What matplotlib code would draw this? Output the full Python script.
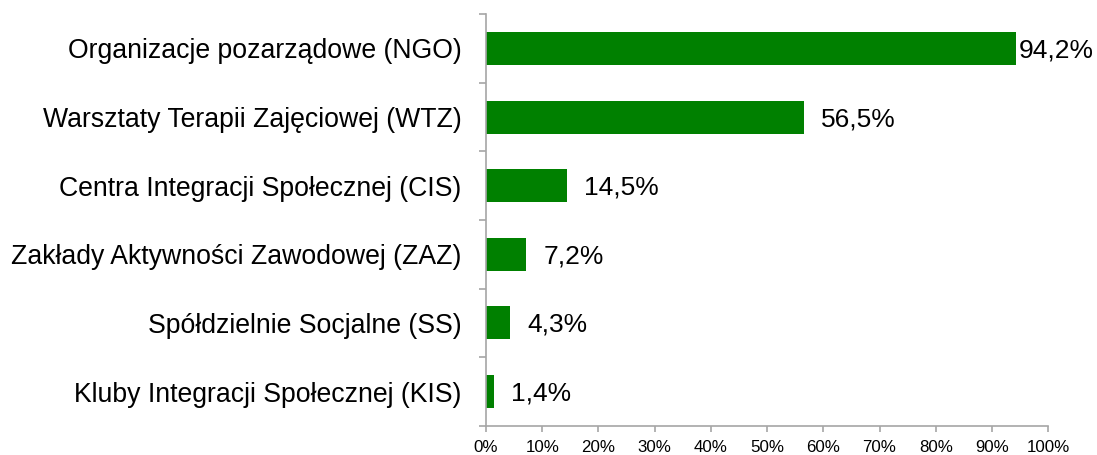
import matplotlib
matplotlib.use("Agg")
import matplotlib.pyplot as plt
import numpy as np

plt.rcParams['font.family'] = ['Liberation Sans', 'DejaVu Sans']

categories = [
    "Organizacje pozarządowe (NGO)",
    "Warsztaty Terapii Zajęciowej (WTZ)",
    "Centra Integracji Społecznej (CIS)",
    "Zakłady Aktywności Zawodowej (ZAZ)",
    "Spółdzielnie Socjalne (SS)",
    "Kluby Integracji Społecznej (KIS)",
]
values = [94.2, 56.5, 14.5, 7.2, 4.3, 1.4]

green = '#008000'
grey = '#a6a6a6'

fig = plt.figure(figsize=(10.97, 4.55), dpi=100)
ax = fig.add_axes([0.443, 0.064, 0.5125, 0.905])

y = np.arange(len(categories))
ax.barh(y, values, height=0.48, color=green)

ax.set_xlim(0, 100)
ax.set_ylim(len(categories) - 0.5, -0.5)

# value labels right of each bar, pulled in when close to the edge
for yi, v in zip(y, values):
    txt = f"{v:.1f}%".replace('.', ',')
    off = 0.6 if v > 90 else 3.0
    ax.text(v + off, yi + 0.03, txt, va='center', ha='left', fontsize=19, color='black')

ax.set_yticks(y)
ax.set_yticklabels(categories, fontsize=19.2)
ax.set_yticks(np.arange(-0.5, len(categories)), minor=True)
ax.tick_params(axis='y', which='major', length=0, pad=17.5)
ax.tick_params(axis='y', which='minor', length=5, color=grey, width=1.2)

ax.set_xticks(np.arange(0, 101, 10))
ax.set_xticklabels([f"{t}%" for t in range(0, 101, 10)], fontsize=12.2)
ax.tick_params(axis='x', length=4, color=grey, width=1.2, pad=6)

for s in ['top', 'right']:
    ax.spines[s].set_visible(False)
for s in ['left', 'bottom']:
    ax.spines[s].set_color(grey)
    ax.spines[s].set_linewidth(1.2)

fig.savefig('out.png', dpi=100)
